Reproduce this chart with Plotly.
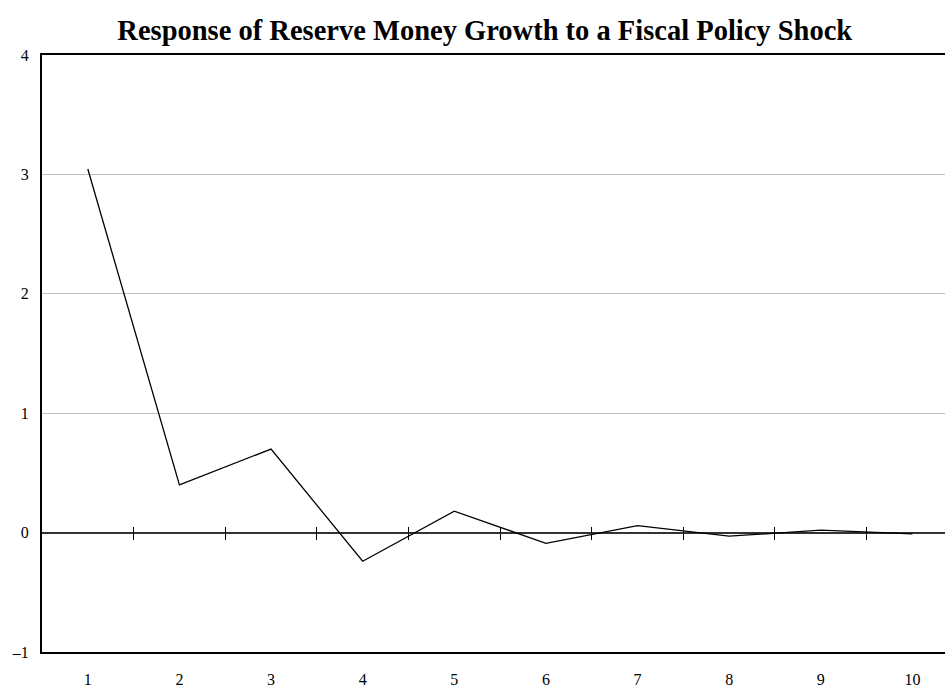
import plotly.graph_objects as go

periods = [1, 2, 3, 4, 5, 6, 7, 8, 9, 10]
response = [3.045, 0.40, 0.70, -0.24, 0.18, -0.09, 0.058, -0.03, 0.02, -0.01]
y_ticks = [-1, 0, 1, 2, 3, 4]
y_tick_text = ["\u20131", "0", "1", "2", "3", "4"]
half_ticks = [1.5, 2.5, 3.5, 4.5, 5.5, 6.5, 7.5, 8.5, 9.5]

font = "Liberation Serif"
xr = [0.5, 10.356]

fig = go.Figure()
fig.add_trace(go.Scatter(x=periods, y=response, mode="lines",
                         line=dict(color="black", width=1.3), showlegend=False,
                         hoverinfo="skip"))

fig.update_layout(
    width=945, height=688,
    margin=dict(l=42, r=0, t=55, b=32),
    paper_bgcolor="white", plot_bgcolor="white",
    font=dict(family=font, size=16, color="black"),
    title=dict(text="<b>Response of Reserve Money Growth to a Fiscal Policy Shock</b>",
               x=0.513, xanchor="center", y=1 - 30/688, yanchor="middle",
               font=dict(family=font, size=28.5, color="black")),
    xaxis=dict(range=xr, tickvals=periods, ticktext=[str(p) for p in periods],
               showgrid=False, zeroline=False, showline=True, linecolor="black",
               linewidth=2, mirror=True, ticks="", ticklabelstandoff=12,
               tickfont=dict(family=font, size=16)),
    xaxis2=dict(range=xr, overlaying="x", anchor="free", position=0.2,
                tickvals=half_ticks, ticks="outside", ticklen=6, tickwidth=1,
                tickcolor="black", showticklabels=False, showgrid=False,
                zeroline=False, showline=False),
    xaxis3=dict(range=xr, overlaying="x", anchor="free", position=0.2,
                tickvals=half_ticks, ticks="inside", ticklen=6, tickwidth=1,
                tickcolor="black", showticklabels=False, showgrid=False,
                zeroline=False, showline=False),
    yaxis=dict(range=[-1, 4], tickvals=y_ticks, ticktext=y_tick_text,
               showgrid=True, gridcolor="#c0c0c0", gridwidth=1,
               zeroline=True, zerolinecolor="#333333", zerolinewidth=1.5,
               showline=True, linecolor="black", linewidth=2, mirror=False,
               ticks="", ticklabelstandoff=8,
               tickfont=dict(family=font, size=16)),
)
fig.add_trace(go.Scatter(x=[None], y=[None], xaxis="x2", showlegend=False))
fig.add_trace(go.Scatter(x=[None], y=[None], xaxis="x3", showlegend=False))

fig.write_html("out.html")
